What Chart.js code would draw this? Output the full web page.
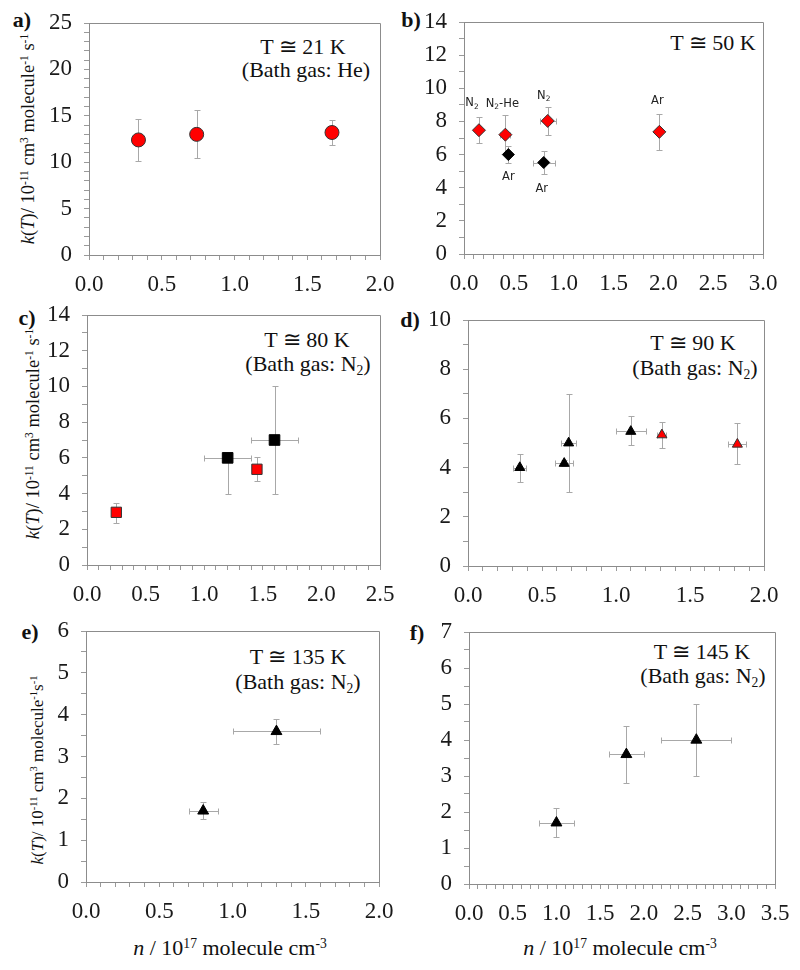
<!DOCTYPE html>
<html>
<head>
<meta charset="utf-8">
<script src="https://cdn.jsdelivr.net/npm/chart.js@4.4.1/dist/chart.umd.min.js"></script>
<style>
body { margin: 0; background: #fff; }
#wrap { position: relative; width: 800px; height: 970px; overflow: hidden; font-family: "Liberation Serif", "Times New Roman", serif; color: #111; }
canvas { position: absolute; }
.t { position: absolute; white-space: nowrap; transform: translate(-50%, -50%); line-height: 1; }
.note { font-size: 22px; }
.lab { font-size: 22px; font-weight: bold; }
.ytitle { font-size: 18.5px; transform: translate(-50%, -50%) rotate(-90deg); }
.ytitle.small { font-size: 17px; }
.xtitle { font-size: 22px; }
sup, sub { font-size: 0.62em; line-height: 0; position: relative; vertical-align: baseline; }
sup { top: -0.55em; }
sub { top: 0.3em; }
</style>
</head>
<body>
<div id="wrap">
  <div class="t lab" style="left:22px;top:20px">a)</div>
  <div class="t lab" style="left:411px;top:20px">b)</div>
  <div class="t lab" style="left:27px;top:318px">c)</div>
  <div class="t lab" style="left:410px;top:320px">d)</div>
  <div class="t lab" style="left:30px;top:632px">e)</div>
  <div class="t lab" style="left:417px;top:633px">f)</div>

  <div class="t note" style="left:303px;top:47px">T ≅ 21 K</div>
  <div class="t note" style="left:306px;top:70px">(Bath gas: He)</div>
  <div class="t note" style="left:713px;top:43px">T ≅ 50 K</div>
  <div class="t note" style="left:307px;top:340px">T ≅ 80 K</div>
  <div class="t note" style="left:308px;top:364px">(Bath gas: N<sub>2</sub>)</div>
  <div class="t note" style="left:693px;top:343px">T ≅ 90 K</div>
  <div class="t note" style="left:695px;top:368px">(Bath gas: N<sub>2</sub>)</div>
  <div class="t note" style="left:298px;top:657px">T ≅ 135 K</div>
  <div class="t note" style="left:298px;top:682px">(Bath gas: N<sub>2</sub>)</div>
  <div class="t note" style="left:702px;top:652px">T ≅ 145 K</div>
  <div class="t note" style="left:703px;top:676px">(Bath gas: N<sub>2</sub>)</div>

  <div class="t ytitle" style="left:28px;top:139px"><i>k</i>(<i>T</i>)/ 10<sup>-11</sup> cm<sup>3</sup> molecule<sup>-1</sup> s<sup>-1</sup></div>
  <div class="t ytitle" style="left:33px;top:434px"><i>k</i>(<i>T</i>)/ 10<sup>-11</sup> cm<sup>3</sup> molecule<sup>-1</sup> s<sup>-1</sup></div>
  <div class="t ytitle small" style="left:37px;top:770px"><i>k</i>(<i>T</i>)/ 10<sup>-11</sup> cm<sup>3</sup> molecule<sup>-1</sup>s<sup>-1</sup></div>

  <div class="t xtitle" style="left:230px;top:948px"><i>n</i> / 10<sup>17</sup> molecule cm<sup>-3</sup></div>
  <div class="t xtitle" style="left:620px;top:948px"><i>n</i> / 10<sup>17</sup> molecule cm<sup>-3</sup></div>
</div>
<script>
const RED = "#ff0000";
const BLACK = "#000000";
const ERR_COLOR = "#a8a8a8";
const FRAME_COLOR = "#8c8c8c";

// a) T = 21 K, He
const aX = [0.34, 0.74, 1.67];
const aY = [12.4, 13.0, 13.2];
const aYLo = [10.1, 10.4, 11.8];
const aYHi = [14.7, 15.6, 14.5];

// b) T = 50 K
const bRedX = [0.15, 0.415, 0.84, 1.96];
const bRedY = [7.47, 7.2, 8.03, 7.37];
const bRedYLo = [6.7, 6.05, 7.17, 6.3];
const bRedYHi = [8.27, 8.37, 8.87, 8.43];
const bRedXErr = [0, 0.05, 0.08, 0];
const bRedLabels = ["N_2", "N_2-He", "N_2", "Ar"];
const bBlackX = [0.445, 0.8];
const bBlackY = [6.0, 5.52];
const bBlackYLo = [5.5, 4.8];
const bBlackYHi = [6.5, 6.2];
const bBlackXErr = [0, 0.11];
const bBlackLabels = ["Ar", "Ar"];

// c) T = 80 K
const cRedX = [0.25, 1.45];
const cRedY = [2.95, 5.36];
const cRedYLo = [2.37, 4.7];
const cRedYHi = [3.49, 6.03];
const cBlackX = [1.2, 1.6];
const cBlackY = [6.0, 7.0];
const cBlackYLo = [4.0, 4.0];
const cBlackYHi = [6.0, 10.0];
const cBlackXErr = [0.2, 0.2];

// d) T = 90 K
const dBlackX = [0.35, 0.65, 0.68, 1.1];
const dBlackY = [4.0, 4.17, 5.0, 5.47];
const dBlackYLo = [3.42, 4.05, 3.0, 4.9];
const dBlackYHi = [4.57, 4.3, 7.0, 6.1];
const dBlackXErr = [0.045, 0.06, 0.05, 0.1];
const dRedX = [1.31, 1.82];
const dRedY = [5.33, 4.95];
const dRedYLo = [4.8, 4.14];
const dRedYHi = [5.86, 5.83];
const dRedXErr = [0.03, 0.06];

// e) T = 135 K
const eX = [0.8, 1.3];
const eY = [1.7, 3.6];
const eYLo = [1.51, 3.3];
const eYHi = [1.91, 3.9];
const eXErr = [0.1, 0.3];

// f) T = 145 K
const fX = [1.0, 1.8, 2.6];
const fY = [1.7, 3.6, 4.0];
const fYLo = [1.3, 2.8, 3.0];
const fYHi = [2.1, 4.4, 5.0];
const fXErr = [0.2, 0.2, 0.4];

// label offsets (pixels) for the gas labels in panel b
const bRedLabelOffsets = [[-7, -27], [-3, -31], [-4, -25], [-2, -31]];
const bBlackLabelOffsets = [[0, 22], [-2, 26]];

function isMult(v, m) {
    const q = v / m;
    return Math.abs(q - Math.round(q)) < 1e-6;
}

function drawRich(ctx, str, cx, cy, size) {
    // "N_2-He" -> N, subscript 2, -He
    const parts = [];
    str.split(/(_\w)/).forEach(p => {
        if (!p) return;
        if (p[0] === "_") parts.push({ t: p.slice(1), sub: true });
        else parts.push({ t: p, sub: false });
    });
    const font = s => s + "px 'DejaVu Sans', sans-serif";
    let w = 0;
    parts.forEach(p => {
        ctx.font = font(p.sub ? size * 0.65 : size);
        p.w = ctx.measureText(p.t).width;
        w += p.w;
    });
    let x = cx - w / 2;
    parts.forEach(p => {
        ctx.font = font(p.sub ? size * 0.65 : size);
        ctx.fillText(p.t, x, p.sub ? cy + size * 0.3 : cy);
        x += p.w;
    });
}

const frame = {
    id: "frame",
    beforeDatasetsDraw(chart) {
        const { ctx, chartArea: a } = chart;
        ctx.save();
        ctx.strokeStyle = FRAME_COLOR;
        ctx.lineWidth = 1;
        ctx.beginPath();
        ctx.moveTo(a.left, Math.round(a.top) + 0.5);
        ctx.lineTo(Math.round(a.right) + 0.5, Math.round(a.top) + 0.5);
        ctx.lineTo(Math.round(a.right) + 0.5, a.bottom);
        ctx.stroke();
        ctx.restore();
    }
};

const errorBars = {
    id: "errorBars",
    beforeDatasetsDraw(chart) {
        const { ctx, scales: { x, y } } = chart;
        const cap = 3;
        ctx.save();
        ctx.strokeStyle = ERR_COLOR;
        ctx.lineWidth = 1;
        chart.data.datasets.forEach(ds => {
            ds.data.forEach((pt, i) => {
                const px = Math.round(x.getPixelForValue(pt.x)) + 0.5;
                const py = Math.round(y.getPixelForValue(pt.y)) + 0.5;
                ctx.beginPath();
                if (ds.yLo) {
                    const y1 = Math.round(y.getPixelForValue(ds.yLo[i])) + 0.5;
                    const y2 = Math.round(y.getPixelForValue(ds.yHi[i])) + 0.5;
                    ctx.moveTo(px, y1); ctx.lineTo(px, y2);
                    ctx.moveTo(px - cap, y1); ctx.lineTo(px + cap, y1);
                    ctx.moveTo(px - cap, y2); ctx.lineTo(px + cap, y2);
                }
                if (ds.xErr && ds.xErr[i]) {
                    const x1 = Math.round(x.getPixelForValue(pt.x - ds.xErr[i])) + 0.5;
                    const x2 = Math.round(x.getPixelForValue(pt.x + ds.xErr[i])) + 0.5;
                    ctx.moveTo(x1, py); ctx.lineTo(x2, py);
                    ctx.moveTo(x1, py - cap); ctx.lineTo(x1, py + cap);
                    ctx.moveTo(x2, py - cap); ctx.lineTo(x2, py + cap);
                }
                ctx.stroke();
            });
        });
        ctx.restore();
    }
};

const pointText = {
    id: "pointText",
    afterDatasetsDraw(chart) {
        const { ctx, scales: { x, y } } = chart;
        ctx.save();
        ctx.fillStyle = "#222";
        ctx.textBaseline = "middle";
        ctx.textAlign = "left";
        chart.data.datasets.forEach(ds => {
            if (!ds.pointLabels) return;
            ds.data.forEach((pt, i) => {
                const off = ds.labelOffsets[i];
                drawRich(ctx, ds.pointLabels[i], x.getPixelForValue(pt.x) + off[0], y.getPixelForValue(pt.y) + off[1], 11.5);
            });
        });
        ctx.restore();
    }
};

function series(xs, ys, lo, hi, xErr, style, color, edge, r, labels, offsets) {
    return {
        data: xs.map((v, i) => ({ x: v, y: ys[i] })),
        yLo: lo, yHi: hi, xErr: xErr,
        pointLabels: labels, labelOffsets: offsets,
        pointStyle: style, pointRadius: r, pointHoverRadius: r,
        backgroundColor: color, borderColor: edge, borderWidth: 1
    };
}

// box: canvas left, top, width, height; axisBottom: height reserved under the plot for tick labels
const panels = [
    { box: [0, 0, 400, 300], area: [89, 23, 380, 255], xMax: 2, yMax: 25, yStep: 1, yMajor: 5,
      datasets: [series(aX, aY, aYLo, aYHi, null, "circle", RED, "#333", 7)] },
    { box: [400, 0, 400, 300], area: [464, 22, 763, 254], xMax: 3, yMax: 14, yStep: 1, yMajor: 2,
      datasets: [
        series(bBlackX, bBlackY, bBlackYLo, bBlackYHi, bBlackXErr, "rectRot", BLACK, BLACK, 6, bBlackLabels, bBlackLabelOffsets),
        series(bRedX, bRedY, bRedYLo, bRedYHi, bRedXErr, "rectRot", RED, "#333", 6.5, bRedLabels, bRedLabelOffsets)
      ] },
    { box: [0, 300, 400, 310], area: [87, 315, 380, 565], xMax: 2.5, yMax: 14, yStep: 1, yMajor: 2,
      datasets: [
        series(cBlackX, cBlackY, cBlackYLo, cBlackYHi, cBlackXErr, "rect", BLACK, BLACK, 7.5),
        series(cRedX, cRedY, cRedYLo, cRedYHi, null, "rect", RED, "#333", 7.3)
      ] },
    { box: [400, 300, 400, 310], area: [468, 320, 764, 566], xMax: 2, yMax: 10, yStep: 1, yMajor: 2,
      datasets: [
        series(dBlackX, dBlackY, dBlackYLo, dBlackYHi, dBlackXErr, "triangle", BLACK, BLACK, 5.8),
        series(dRedX, dRedY, dRedYLo, dRedYHi, dRedXErr, "triangle", RED, "#333", 5.8)
      ] },
    { box: [0, 610, 400, 360], area: [86, 631, 379, 882], xMax: 2, yMax: 6, yStep: 0.5, yMajor: 1,
      datasets: [series(eX, eY, eYLo, eYHi, eXErr, "triangle", BLACK, BLACK, 6.3)] },
    { box: [400, 610, 400, 360], area: [469, 632, 775, 884], xMax: 3.5, yMax: 7, yStep: 0.5, yMajor: 1,
      datasets: [series(fX, fY, fYLo, fYHi, fXErr, "triangle", BLACK, BLACK, 6.3)] }
];

const tickFont = { family: "'Liberation Serif', 'Times New Roman', serif", size: 23 };
const wrap = document.getElementById("wrap");

panels.forEach(p => {
    const [cx, cy, cw, ch] = p.box;
    const [l, t, r, b] = p.area;
    const cv = document.createElement("canvas");
    cv.width = cw;
    cv.height = ch;
    cv.style.left = cx + "px";
    cv.style.top = cy + "px";
    wrap.appendChild(cv);

    const grid = { display: true, drawOnChartArea: false, drawTicks: true, tickLength: 5, color: "#9a9a9a", lineWidth: 1 };
    const border = { display: true, color: FRAME_COLOR, width: 1 };

    new Chart(cv.getContext("2d"), {
        type: "scatter",
        data: { datasets: p.datasets },
        options: {
            responsive: false,
            animation: false,
            events: [],
            layout: { padding: { left: 0, top: t - cy, right: cx + cw - r, bottom: 0 } },
            plugins: { legend: { display: false }, tooltip: { enabled: false } },
            scales: {
                x: {
                    type: "linear", min: 0, max: p.xMax,
                    grid: grid, border: border,
                    ticks: {
                        stepSize: 0.1, autoSkip: false, maxRotation: 0, minRotation: 0,
                        padding: 11, color: "#1a1a1a", font: tickFont,
                        callback: v => isMult(v, 0.5) ? v.toFixed(1) : ""
                    },
                    afterFit: s => { s.height = cy + ch - b; s.paddingLeft = 0; s.paddingRight = 0; }
                },
                y: {
                    type: "linear", min: 0, max: p.yMax,
                    grid: grid, border: border,
                    ticks: {
                        stepSize: p.yStep, autoSkip: false,
                        padding: 12, color: "#1a1a1a", font: tickFont,
                        callback: v => isMult(v, p.yMajor) ? String(Math.round(v)) : ""
                    },
                    afterFit: s => { s.width = l - cx; s.paddingTop = 0; s.paddingBottom = 0; }
                }
            }
        },
        plugins: [frame, errorBars, pointText]
    });
});
</script>
</body>
</html>
